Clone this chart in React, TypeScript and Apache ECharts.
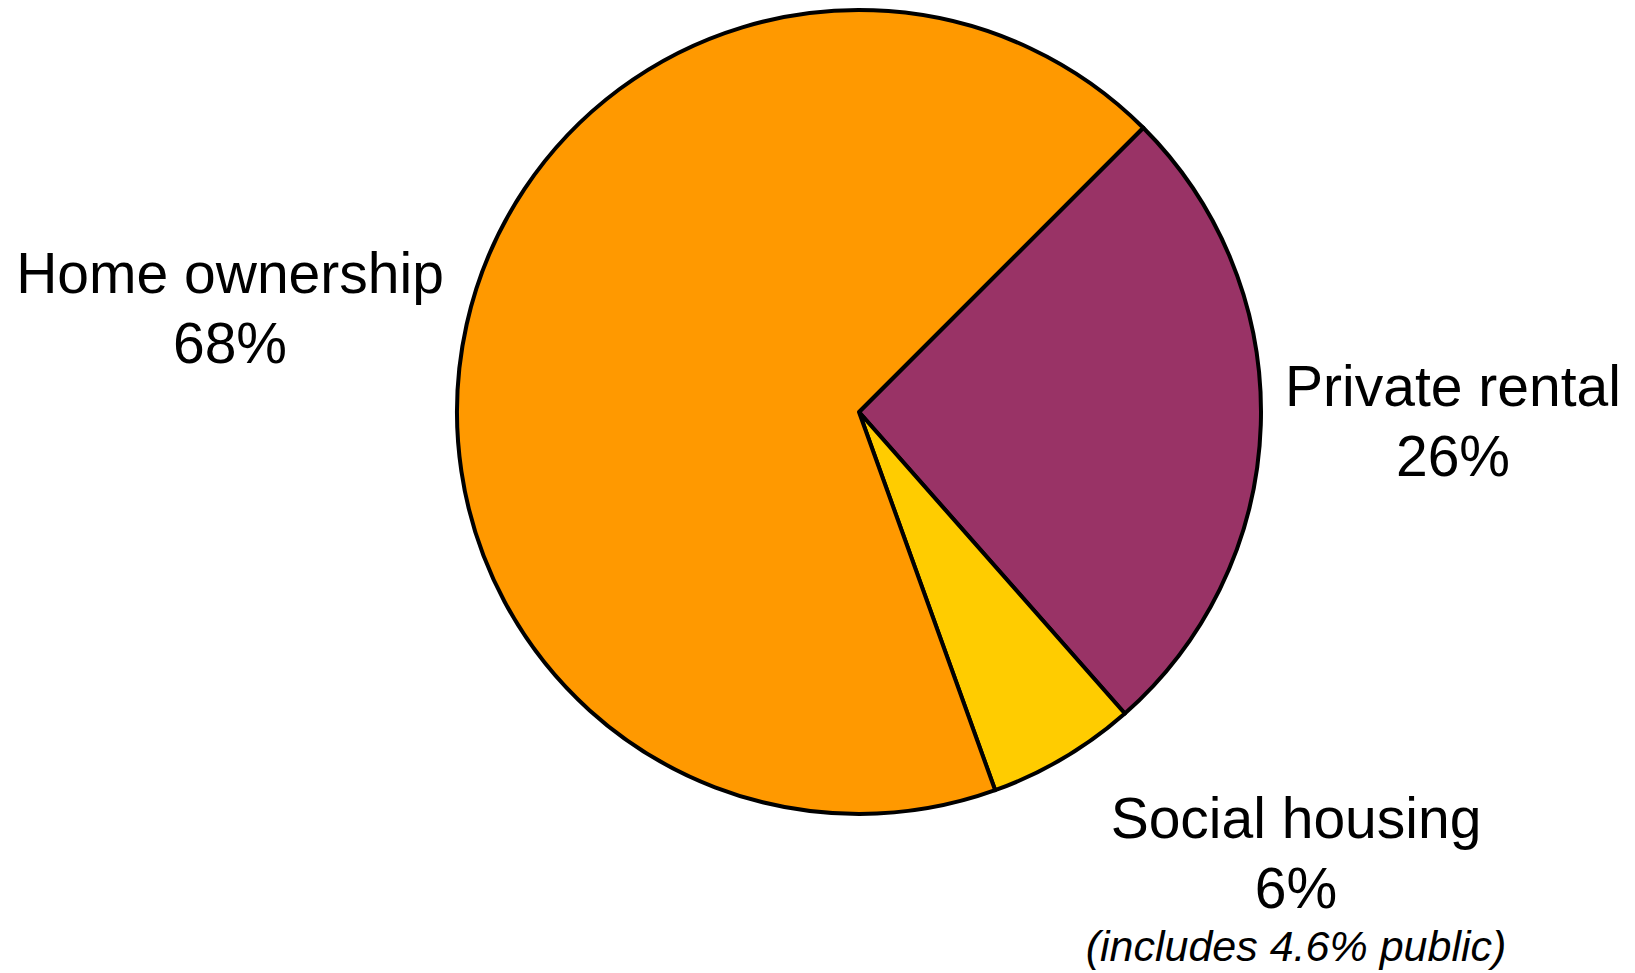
import React, { useEffect, useRef } from 'react';
import * as echarts from 'echarts';

const categories = ['Private rental', 'Social housing', 'Home ownership'];
const values = [26, 6, 68];
const colors = ['#993366', '#FFCC00', '#FF9900'];
const notes = ['', '(includes 4.6% public)', ''];

const labelAnchors: Record<string, [number, number]> = {
  'Private rental': [1453, 351],
  'Social housing': [1296, 783],
  'Home ownership': [230, 238],
};

const FONT = "'Liberation Sans', Arial, Helvetica, sans-serif";

export default function App() {
  const ref = useRef<HTMLDivElement>(null);

  useEffect(() => {
    document.body.style.margin = '0';
    if (!ref.current) return;
    const chart = echarts.init(ref.current, undefined, { renderer: 'svg' });
    chart.setOption({
      animation: false,
      backgroundColor: '#ffffff',
      series: [
        {
          type: 'pie',
          center: [859, 412],
          radius: 402,
          startAngle: 45,
          clockwise: true,
          silent: true,
          itemStyle: { borderColor: '#000000', borderWidth: 4 },
          labelLine: { show: false },
          label: {
            show: true,
            position: 'inside',
            overflow: 'none',
            align: 'center',
            fontFamily: FONT,
            color: '#000000',
            formatter: (p: any) => {
              const note = notes[p.dataIndex];
              let s = `{main|${p.name}}\n{main|${p.value}%}`;
              if (note) s += `\n{note|${note}}`;
              return s;
            },
            rich: {
              main: { fontSize: 57, lineHeight: 70, fontFamily: FONT, color: '#000', align: 'center' },
              note: { fontSize: 43, lineHeight: 46, fontStyle: 'italic', fontFamily: FONT, color: '#000', align: 'center' },
            },
          },
          labelLayout: (p: any) => {
            const name = categories[p.dataIndex];
            const [x, y] = labelAnchors[name];
            return { x, y, align: 'center', verticalAlign: 'top' };
          },
          data: categories.map((c, i) => ({
            name: c,
            value: values[i],
            itemStyle: { color: colors[i] },
          })),
        },
      ],
    });
    return () => chart.dispose();
  }, []);

  return <div ref={ref} style={{ width: 1635, height: 973 }} />;
}
